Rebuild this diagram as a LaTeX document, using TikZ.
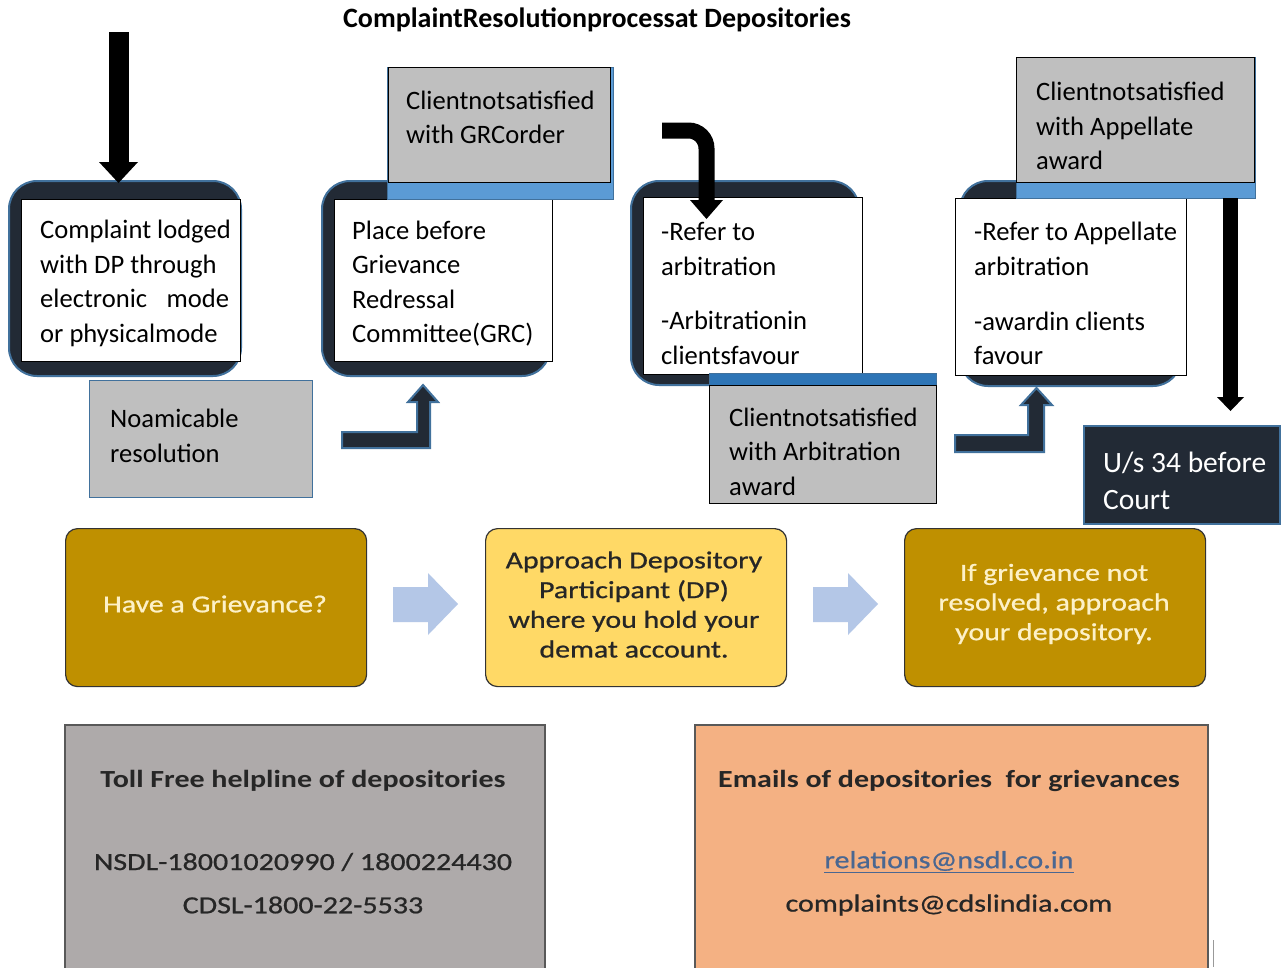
\documentclass[tikz,border=0pt]{standalone}
\usepackage{fontspec}
\setmainfont{Carlito}
\newfontfamily\widefont[FakeStretch=1.22,FakeBold=0.8]{Carlito}
\newfontfamily\widebold[FakeStretch=1.22]{Carlito Bold}
\definecolor{navy}{HTML}{222A35}
\definecolor{bord}{HTML}{41719C}
\definecolor{grayfill}{HTML}{BFBFBF}
\definecolor{stripA}{HTML}{5B9BD5}
\definecolor{stripB}{HTML}{2E75B6}
\definecolor{gold}{HTML}{BF9000}
\definecolor{lightgold}{HTML}{FFD966}
\definecolor{cream}{HTML}{FDF1C8}
\definecolor{pale}{HTML}{B4C7E7}
\definecolor{helpgray}{HTML}{AEAAAA}
\definecolor{peach}{HTML}{F4B183}
\definecolor{linkblue}{HTML}{4A6791}
\definecolor{darktext}{HTML}{262626}
\begin{document}
\begin{tikzpicture}[x=1pt,y=-1pt,
  darkbox/.style={draw=bord, line width=2pt, fill=navy, rounded corners=28pt, anchor=north west, inner sep=0pt},
  whitebox/.style={draw=black, line width=0.8pt, fill=white, anchor=north west, inner sep=0pt},
  graybox/.style={draw=black, line width=0.8pt, fill=grayfill, anchor=north west, inner sep=0pt},
  stripbox/.style={draw=bord, line width=1pt, anchor=north west, inner sep=0pt},
  txt/.style={anchor=west, align=left, inner sep=0pt, font=\fontsize{26.6}{34.5}\selectfont},
  goldbox/.style={draw=black!80, line width=1.2pt, rounded corners=12pt, anchor=north west, inner sep=0pt, minimum width=301pt, minimum height=158pt},
  goldtxt/.style={align=center, inner sep=0pt, font=\widefont\fontsize{24.5}{29.7}\selectfont},
  infobox/.style={draw=black!65, line width=1.5pt, anchor=north west, inner sep=0pt},
  infotxt/.style={inner sep=0pt, font=\widefont\fontsize{24.6}{30}\selectfont, text=darktext},
  blockarrow/.style={fill=navy, draw=bord, line width=2pt, line join=miter},
  paleArrow/.style={fill=pale, draw=none}
]
\useasboundingbox (0,0) rectangle (1285,967);
\fill[white] (0,0) rectangle (1285,967);

% title
\node[inner sep=0pt, font=\bfseries\fontsize{28}{32}\selectfont] (title) at (597,20) {ComplaintResolutionprocessat Depositories};

% ---- box 1
\node[darkbox, minimum width=232pt, minimum height=195pt] (d1) at (8,180) {};
\node[whitebox, minimum width=219pt, minimum height=162pt] (w1) at (21,199) {};
\node[txt] (t1) at (40,283.5) {Complaint lodged\\with DP through\\\makebox[189pt][s]{electronic mode}\\or physicalmode};
\fill[black] (109,32) rectangle (129,162);
\fill[black] (99,162) -- (138,162) -- (118.5,183) -- cycle;

% no amicable
\node[draw=bord, line width=1.2pt, fill=grayfill, anchor=north west, inner sep=0pt, minimum width=223pt, minimum height=117pt] (na) at (89,380) {};
\node[txt] (tna) at (110,436) {Noamicable\\resolution};

% ---- box 2
\node[darkbox, minimum width=228pt, minimum height=195pt] (d2) at (321,180) {};
\node[whitebox, minimum width=218pt, minimum height=162pt] (w2) at (334,199) {};
\node[txt] (t2) at (352,283.5) {Place before\\Grievance\\Redressal\\Committee(GRC)};
\node[stripbox, fill=stripA, minimum width=226pt, minimum height=132pt] (s2) at (387,67) {};
\node[graybox, minimum width=222pt, minimum height=115pt] (g2) at (388,67) {};
\node[txt] (tg2) at (406,117.5) {Clientnotsatisfied\\with GRCorder};
\path[blockarrow] (342,432) -- (417,432) -- (417,402) -- (408,402) -- (423,385) -- (438,402) -- (430,402) -- (430,448) -- (342,448) -- cycle;

% ---- box 3
\node[darkbox, minimum width=228pt, minimum height=204pt] (d3) at (630,180) {};
\node[whitebox, minimum width=219pt, minimum height=177pt] (w3) at (643,197) {};
\node[txt] (t3a) at (661,249) {-Refer to\\arbitration};
\node[txt] (t3b) at (661,338) {-Arbitrationin\\clientsfavour};
\draw[black, line width=16pt, rounded corners=18pt] (662,130.5) -- (706.5,130.5) -- (706.5,201);
\fill[black] (690,200) -- (723,200) -- (706.5,219) -- cycle;
\node[stripbox, fill=stripB, minimum width=227pt, minimum height=12pt] (s3) at (709,373) {};
\node[graybox, minimum width=227pt, minimum height=118pt] (g3) at (709,385) {};
\node[txt] (tg3) at (729,451.5) {Clientnotsatisfied\\with Arbitration\\award};
\path[blockarrow] (955,435) -- (1028,435) -- (1028,405) -- (1021,405) -- (1036.5,388) -- (1052,405) -- (1044,405) -- (1044,452) -- (955,452) -- cycle;

% ---- box 4
\node[darkbox, minimum width=221pt, minimum height=205pt] (d4) at (959,180) {};
\node[whitebox, minimum width=231pt, minimum height=177pt] (w4) at (955,198) {};
\node[txt] (t4a) at (974,249) {-Refer to Appellate\\arbitration};
\node[txt] (t4b) at (974,338.5) {-awardin clients\\favour};
\node[stripbox, fill=stripA, minimum width=239pt, minimum height=141pt] (s4) at (1016,57) {};
\node[graybox, minimum width=238pt, minimum height=125pt] (g4) at (1016,57) {};
\node[txt] (tg4) at (1036,126) {Clientnotsatisfied\\with Appellate\\award};
\fill[black] (1223,198) rectangle (1238,397);
\fill[black] (1217,397) -- (1244,397) -- (1230.5,411) -- cycle;

% court
\node[draw=bord, line width=2pt, fill=navy, anchor=north west, inner sep=0pt, minimum width=196pt, minimum height=98pt] (ct) at (1083,425) {};
\node[txt, text=white, font=\fontsize{29.5}{37}\selectfont] (tct) at (1103,480.5) {U/s 34 before\\Court};

% ---- bottom flow
\node[goldbox, fill=gold] (ga) at (65,528) {};
\node[goldbox, fill=lightgold] (gb) at (485,528) {};
\node[goldbox, fill=gold] (gc) at (904,528) {};
\node[goldtxt, text=cream] (tga) at (215,604) {Have a Grievance?};
\node[goldtxt, text=darktext] (tgb) at (634,604.5) {Approach Depository\\Participant (DP)\\where you hold your\\demat account.};
\node[goldtxt, text=cream] (tgc) at (1054,604) {If grievance not\\resolved, approach\\your depository.};
\path[paleArrow] (393,587) -- (428,587) -- (428,573) -- (458,604) -- (428,635) -- (428,622) -- (393,622) -- cycle;
\path[paleArrow] (813,587) -- (848,587) -- (848,573) -- (878,604) -- (848,635) -- (848,622) -- (813,622) -- cycle;

% ---- info boxes
\node[infobox, fill=helpgray, minimum width=480pt, minimum height=250pt] (hb) at (64,724) {};
\node[infotxt, font=\widebold\fontsize{24.6}{30}\selectfont] (thb1) at (303,781) {Toll Free helpline of depositories};
\node[infotxt] (thb2) at (303,862) {NSDL-18001020990 / 1800224430};
\node[infotxt] (thb3) at (303,905) {CDSL-1800-22-5533};

\node[infobox, fill=peach, minimum width=513pt, minimum height=250pt] (eb) at (694,724) {};
\node[infotxt, font=\widebold\fontsize{24.6}{30}\selectfont] (teb1) at (949,781) {Emails of depositories\ \ for grievances};
\node[infotxt, text=linkblue] (teb2) at (949,862) {\underline{relations@nsdl.co.in}};
\node[infotxt] (teb3) at (949,905) {complaints@cdslindia.com};
\draw[black!40, line width=1pt] (1213,940) -- (1213,967);
\end{tikzpicture}
\end{document}
